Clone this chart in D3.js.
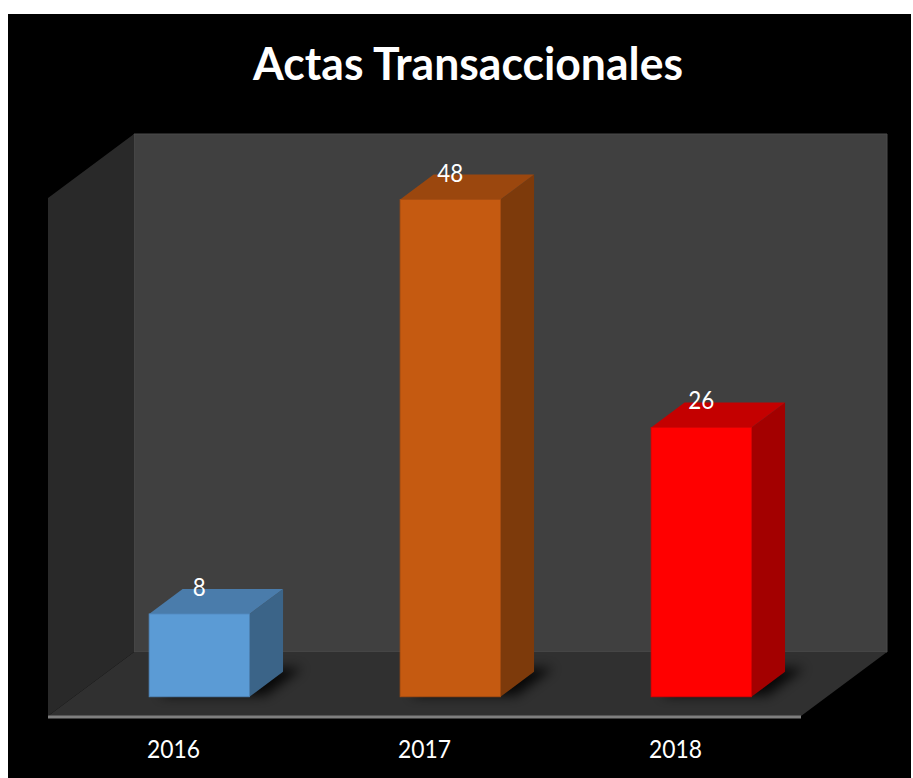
<!DOCTYPE html>
<html>
<head>
<meta charset="utf-8">
<script src="https://cdn.jsdelivr.net/npm/d3@7"></script>
<style>
  html, body { margin: 0; padding: 0; background: #ffffff; }
  svg { display: block; }
</style>
</head>
<body>
<script>
// ---- data ----
const title = "Actas Transaccionales";
const categories = ["2016", "2017", "2018"];
const values = [8, 48, 26];
const frontColors = ["#5B9BD5", "#C55A11", "#FF0000"];
const topColors = ["#4A7CAB", "#9B470E", "#C40000"];
const sideColors = ["#3B6488", "#7D3A0B", "#A30000"];
const valueDomain = [0, 50];

// ---- layout ----
const W = 913, H = 778;
const svg = d3.select("body").append("svg").attr("width", W).attr("height", H);

// black chart background
svg.append("rect").attr("x", 8).attr("y", 14).attr("width", 903).attr("height", H - 14).attr("fill", "#000");

const floorFrontY = 716;
const floorLeft = 48, floorRight = 801;
const depthDX = 86, depthDY = -64; // full depth vector
const plotH = 518;

const x = d3.scaleBand().domain(categories).range([floorLeft, floorRight]).padding(0);
const y = d3.scaleLinear().domain(valueDomain).range([0, plotH]);

// projection: front-plane x, value, depth fraction
function P(px, v, d) { return [px + d * depthDX, floorFrontY + d * depthDY - y(v)]; }
const poly = pts => pts.map(p => p.join(",")).join(" ");

// defs
const defs = svg.append("defs");
const blur = defs.append("filter").attr("id", "shadowBlur").attr("x", "-50%").attr("y", "-50%").attr("width", "200%").attr("height", "200%");
blur.append("feGaussianBlur").attr("stdDeviation", 6);

const g = svg.append("g");

// back wall
g.append("polygon")
  .attr("points", poly([P(floorLeft, valueDomain[1], 1), P(floorRight, valueDomain[1], 1), P(floorRight, 0, 1), P(floorLeft, 0, 1)]))
  .attr("fill", "#404040").attr("stroke", "#4a4a4a").attr("stroke-width", 1);

// left wall
g.append("polygon")
  .attr("points", poly([P(floorLeft, valueDomain[1], 0), P(floorLeft, valueDomain[1], 1), P(floorLeft, 0, 1), P(floorLeft, 0, 0)]))
  .attr("fill", "#292929");

// floor
g.append("polygon")
  .attr("points", poly([P(floorLeft, 0, 0), P(floorRight, 0, 0), P(floorRight, 0, 1), P(floorLeft, 0, 1)]))
  .attr("fill", "#303030");

// floor front edge
g.append("line")
  .attr("x1", floorLeft).attr("x2", floorRight)
  .attr("y1", floorFrontY + 1).attr("y2", floorFrontY + 1)
  .attr("stroke", "#7f7f7f").attr("stroke-width", 3);

// bars
const d1 = 0.3, d2 = 0.69;
const barFrac = 0.4;
const bars = g.selectAll("g.bar").data(categories.map((c, i) => ({ c, v: values[i], i })))
  .join("g").attr("class", "bar");

bars.each(function (d) {
  const sel = d3.select(this);
  const bw = x.bandwidth() * barFrac;
  const xl = x(d.c) + (x.bandwidth() - bw) / 2;
  const xr = xl + bw;
  // shadow on floor
  sel.append("polygon")
    .attr("points", poly([P(xl + 8, 0, d1 + 0.02), P(xr + 14, 0, d1 + 0.02), P(xr + 14, 0, d2 + 0.06), P(xl + 8, 0, d2 + 0.06)]))
    .attr("fill", "#000").attr("opacity", 0.85).attr("filter", "url(#shadowBlur)");
  // side
  sel.append("polygon")
    .attr("points", poly([P(xr, d.v, d1), P(xr, d.v, d2), P(xr, 0, d2), P(xr, 0, d1)]))
    .attr("fill", sideColors[d.i]);
  // top
  sel.append("polygon")
    .attr("points", poly([P(xl, d.v, d1), P(xr, d.v, d1), P(xr, d.v, d2), P(xl, d.v, d2)]))
    .attr("fill", topColors[d.i]);
  // front
  const f0 = P(xl, d.v, d1), f1 = P(xr, 0, d1);
  sel.append("rect")
    .attr("x", f0[0]).attr("y", f0[1])
    .attr("width", f1[0] - f0[0]).attr("height", f1[1] - f0[1])
    .attr("fill", frontColors[d.i])
    .attr("stroke", d3.color(frontColors[d.i]).darker(0.4)).attr("stroke-width", 0.8);
  // data label
  const lp = P((xl + xr) / 2, d.v, d2);
  const lbl = String(d.v);
  sel.append("text")
    .attr("x", (xl + xr) / 2 + d1 * depthDX).attr("y", lp[1] + 7)
    .attr("text-anchor", "middle")
    .attr("font-family", "Lato, 'Open Sans', sans-serif")
    .attr("font-size", 25)
    .attr("fill", "#ffffff")
    .attr("textLength", 13 * lbl.length).attr("lengthAdjust", "spacingAndGlyphs")
    .text(lbl);
});

// category axis
const axis = d3.axisBottom(x).tickSize(0).tickPadding(0);
const ax = svg.append("g").attr("transform", `translate(0, ${floorFrontY})`).call(axis);
ax.select(".domain").remove();
ax.selectAll("text")
  .attr("y", 42).attr("dy", 0)
  .attr("font-family", "Lato, 'Open Sans', sans-serif")
  .attr("font-size", 25)
  .attr("fill", "#ffffff")
  .attr("textLength", 53).attr("lengthAdjust", "spacingAndGlyphs");

// title
svg.append("text")
  .attr("x", 468).attr("y", 80)
  .attr("text-anchor", "middle")
  .attr("font-family", "Lato, 'Open Sans', sans-serif")
  .attr("font-weight", "bold")
  .attr("font-size", 46)
  .attr("fill", "#ffffff")
  .attr("textLength", 430).attr("lengthAdjust", "spacingAndGlyphs")
  .text(title);
</script>
</body>
</html>
